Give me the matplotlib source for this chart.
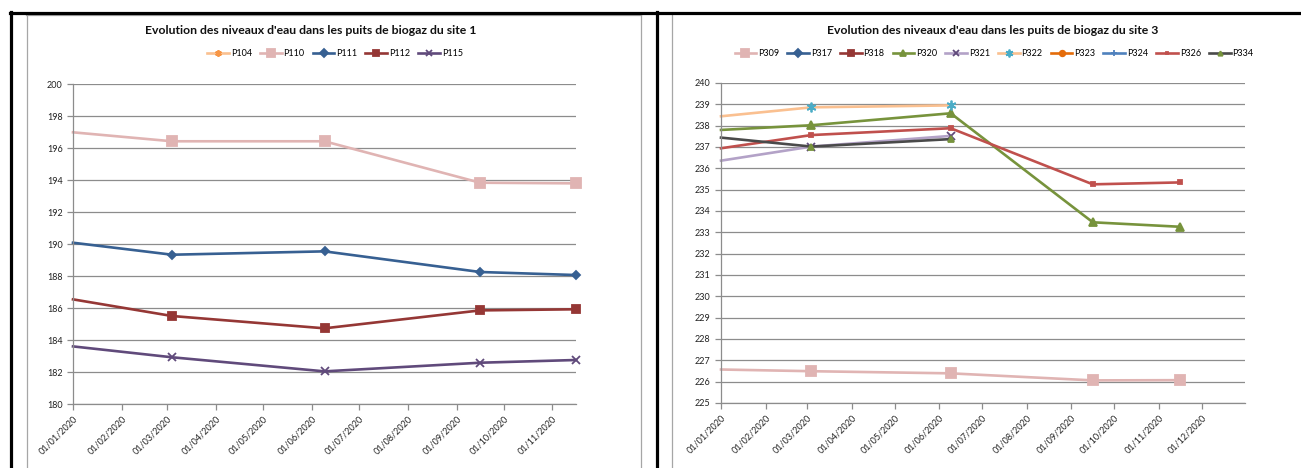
import numpy as np
import matplotlib
matplotlib.use('Agg')
import matplotlib.pyplot as plt
import matplotlib.dates as mdates
from matplotlib.lines import Line2D

plt.rcParams['font.family'] = ['Lato', 'DejaVu Sans']

nan = np.nan
dates = np.array(['2020-01-01', '2020-03-04', '2020-06-09', '2020-09-16', '2020-11-16'],
                 dtype='datetime64[D]')

# site 1
p104 = [nan, nan, nan, nan, nan]
p110 = [196.98, 196.42, 196.42, 193.83, 193.79]
p111 = [190.08, 189.33, 189.54, 188.25, 188.06]
p112 = [186.54, 185.50, 184.73, 185.85, 185.92]
p115 = [183.60, 182.92, 182.04, 182.58, 182.75]

# site 3
p309 = [226.57, 226.49, 226.39, 226.06, 226.07]
p317 = [nan, nan, nan, nan, nan]
p318 = [nan, nan, nan, nan, nan]
p320 = [237.80, 238.02, 238.58, 233.47, 233.26]
p321 = [236.36, 237.02, 237.52, nan, nan]
p322 = [238.44, 238.86, 238.95, nan, nan]
p323 = [nan, nan, nan, nan, nan]
p324 = [nan, nan, nan, nan, nan]
p326 = [236.94, 237.56, 237.88, 235.25, 235.34]
p334 = [237.44, 237.02, 237.37, nan, nan]

grid_c = '#8c8c8c'
W, H = 1301, 468


def fx(px):
    return px / W


def fy(py):
    return 1 - py / H


# (label, values, line colour, marker, marker face colour, marker size)
site1 = [
    ('P104', p104, '#FAC090', (6, 2, 0), '#F79646', 6),
    ('P110', p110, '#E0B4B3', 's', '#E0B4B3', 6.5),
    ('P111', p111, '#376092', 'D', '#376092', 4.5),
    ('P112', p112, '#953735', 's', '#953735', 6),
    ('P115', p115, '#604A7B', 'x', '#604A7B', 5.5),
]
site3 = [
    ('P309', p309, '#E0B4B3', 's', '#E0B4B3', 6.5),
    ('P317', p317, '#376092', 'D', '#376092', 4.5),
    ('P318', p318, '#953735', 's', '#953735', 6),
    ('P320', p320, '#77933C', '^', '#77933C', 6),
    ('P321', p321, '#B3A2C7', 'x', '#604A7B', 5.5),
    ('P322', p322, '#FAC090', (6, 2, 0), '#4BACC6', 7),
    ('P323', p323, '#E46C0A', 'o', '#E46C0A', 5),
    ('P324', p324, '#4F81BD', '+', '#4F81BD', 6),
    ('P326', p326, '#C0504D', 's', '#C0504D', 2.5),
    ('P334', p334, '#4A4A4A', '^', '#77933C', 4),
]

fig = plt.figure(figsize=(13.01, 4.68), dpi=100)


def draw(ax, series, ylo, yhi, ystep, xmax, title, title_x, leg_x, ncol):
    for lab, vals, c, m, mc, ms in series:
        ax.plot(dates, vals, color=c, lw=1.9, marker=m, ms=ms, mfc=mc, mec=mc,
                mew=1.3, markevery=[1, 2, 3, 4], label=lab, clip_on=False)
    ax.set_ylim(ylo, yhi)
    ax.set_yticks(np.arange(ylo, yhi + 0.1, ystep))
    ax.set_xlim(np.datetime64('2020-01-01'), xmax)
    ax.xaxis.set_major_locator(mdates.MonthLocator())
    ax.xaxis.set_major_formatter(mdates.DateFormatter('%d/%m/%Y'))
    ax.grid(axis='y', color=grid_c, lw=0.9)
    ax.set_axisbelow(True)
    for s in ['top', 'right']:
        ax.spines[s].set_visible(False)
    for s in ['left', 'bottom']:
        ax.spines[s].set_color(grid_c)
        ax.spines[s].set_linewidth(0.9)
    ax.tick_params(axis='both', colors=grid_c, labelcolor='#222222', labelsize=6.5,
                   length=4, width=0.9, direction='out')
    for t in ax.get_xticklabels():
        t.set_rotation(45)
        t.set_ha('right')
        t.set_va('top')
        t.set_rotation_mode('anchor')
    fig.text(fx(title_x), fy(31), title, ha='center', va='center',
             fontsize=8.8, fontweight='bold', color='#111111')
    handles, labels = ax.get_legend_handles_labels()
    fig.legend(handles, labels, loc='center', bbox_to_anchor=(fx(leg_x), fy(54)),
               ncol=ncol, frameon=False, fontsize=6.5, handlelength=2.4,
               handletextpad=0.2, columnspacing=0.9, markerscale=0.8)


ax1 = fig.add_axes([fx(73), fy(404), fx(576 - 73), (404 - 84) / H])
draw(ax1, site1, 180, 200, 2, np.datetime64('2020-11-16'),
     "Evolution des niveaux d'eau dans les puits de biogaz du site 1", 311, 335, 5)

ax2 = fig.add_axes([fx(721), fy(403), fx(1245 - 721), (403 - 83) / H])
draw(ax2, site3, 225, 240, 1, np.datetime64('2020-12-31'),
     "Evolution des niveaux d'eau dans les puits de biogaz du site 3", 993, 994, 10)

# chart-area borders and the black frame around the screenshot
for x in [26.5, 641, 672]:
    fig.add_artist(Line2D([fx(x), fx(x)], [fy(14.5), 0], color='#a6a6a6', lw=0.9))
fig.add_artist(Line2D([fx(26), fx(641)], [fy(14.5), fy(14.5)], color='#a6a6a6', lw=0.9))
fig.add_artist(Line2D([fx(10), 1], [fy(13), fy(13)], color='black', lw=2.3))
for x in [11, 657]:
    fig.add_artist(Line2D([fx(x), fx(x)], [fy(12), 0], color='black', lw=2.3))

fig.savefig('out.png', dpi=100, facecolor='white')
